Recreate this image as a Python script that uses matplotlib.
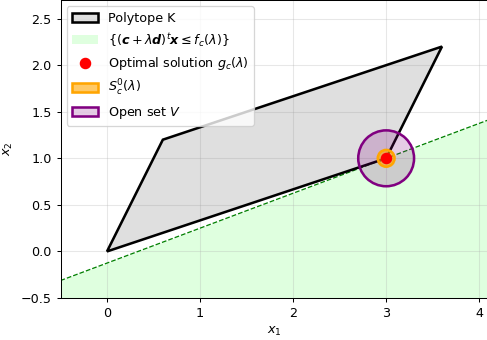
import numpy as np
import matplotlib
matplotlib.use("Agg")
import matplotlib.pyplot as plt
from matplotlib.patches import Polygon, Circle

# data
poly_x = [0.0, 0.6, 3.6, 3.0]
poly_y = [0.0, 1.2, 2.2, 1.0]
opt_point = (3.0, 1.0)
line_slope = 0.375
V_radius = 0.3
S_radius = 0.09
xlim = (-0.5, 4.1)
ylim = (-0.5, 2.7)

DPI = 92
fig = plt.figure(figsize=(487/DPI, 340/DPI), dpi=DPI)
ax = fig.add_axes([60.5/487, 42/340, 428/487, 298/340])

xs = np.array([xlim[0], xlim[1]])
ys = opt_point[1] + line_slope * (xs - opt_point[0])
lab_half = r'$\{(\boldsymbol{c}+\lambda\boldsymbol{d})^t\boldsymbol{x} \leq f_c(\lambda)\}$'
ax.fill_between(xs, ylim[0], ys, color='#dfffdf', lw=0, label=lab_half, zorder=1)
ax.plot(xs, ys, '--', color='green', lw=1, zorder=2)

poly = Polygon(list(zip(poly_x, poly_y)), closed=True,
               facecolor=(0.5, 0.5, 0.5, 0.25), edgecolor='black', lw=2,
               label='Polytope K', zorder=3)
ax.add_patch(poly)

vc = Circle(opt_point, V_radius, facecolor=(0.5, 0, 0.5, 0.2), edgecolor='purple', lw=2,
            label='Open set $V$', zorder=4)
ax.add_patch(vc)
sc = Circle(opt_point, S_radius, facecolor=(1, 0.65, 0, 0.6), edgecolor='orange', lw=2,
            label=r'$S_c^0(\lambda)$', zorder=5)
ax.add_patch(sc)
ax.plot([opt_point[0]], [opt_point[1]], 'o', color='red', ms=8, lw=0,
        label=r'Optimal solution $g_c(\lambda)$', zorder=6)

ax.set_xlim(*xlim)
ax.set_ylim(*ylim)
ax.set_xticks([0, 1, 2, 3, 4])
ax.set_yticks([-0.5, 0.0, 0.5, 1.0, 1.5, 2.0, 2.5])
ax.grid(True, alpha=0.3)
ax.set_xlabel('$x_1$')
ax.set_ylabel('$x_2$')

h, l = ax.get_legend_handles_labels()
order = ['Polytope K', lab_half, r'Optimal solution $g_c(\lambda)$', r'$S_c^0(\lambda)$', 'Open set $V$']
hm = dict(zip(l, h))
ax.legend([hm[k] for k in order], order, loc='upper left')

fig.savefig('out.png', dpi=DPI)
